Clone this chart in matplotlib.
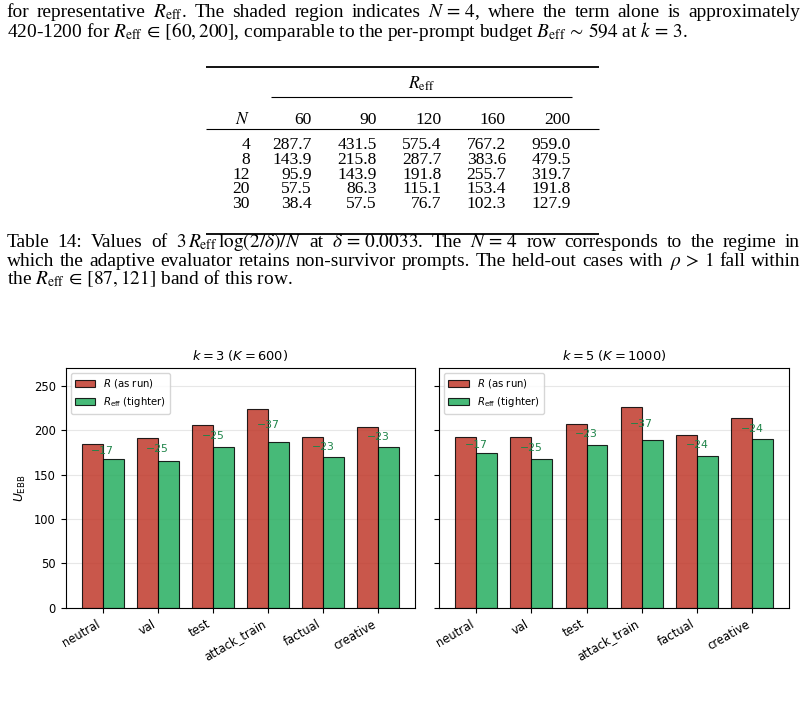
import re
import numpy as np
import matplotlib
matplotlib.use('Agg')
import matplotlib.pyplot as plt
from matplotlib.lines import Line2D

# ---------------- data ----------------
categories = ['neutral', 'val', 'test', 'attack_train', 'factual', 'creative']
k3_R = [185, 191, 206, 224, 193, 204]
k3_Reff = [168, 166, 181, 187, 170, 181]
k5_R = [192, 193, 207, 226, 195, 214]
k5_Reff = [175, 168, 184, 189, 171, 190]

table_Reff = [60, 90, 120, 160, 200]
table_N = [4, 8, 12, 20, 30]
row_4 = [287.7, 431.5, 575.4, 767.2, 959.0]
row_8 = [143.9, 215.8, 287.7, 383.6, 479.5]
row_12 = [95.9, 143.9, 191.8, 255.7, 319.7]
row_20 = [57.5, 86.3, 115.1, 153.4, 191.8]
row_30 = [38.4, 57.5, 76.7, 102.3, 127.9]
table_rows = [row_4, row_8, row_12, row_20, row_30]

top_lines = [
    r"for representative $R_{\mathrm{eff}}$. The shaded region indicates $N\,=\,4$, where the term alone is approximately",
    r"420-1200 for $R_{\mathrm{eff}}\,\in\,[60, 200]$, comparable to the per-prompt budget $B_{\mathrm{eff}}\,\sim\,594$ at $k\,=\,3$.",
]
caption_lines = [
    r"Table 14: Values of $3\,R_{\mathrm{eff}}\,\log(2/\delta)/N$ at $\delta\,=\,0.0033$. The $N\,=\,4$ row corresponds to the regime in",
    r"which the adaptive evaluator retains non-survivor prompts. The held-out cases with $\rho\,>\,1$ fall within",
    r"the $R_{\mathrm{eff}}\,\in\,[87, 121]$ band of this row.",
]

# ---------------- figure ----------------
W, H = 805, 714
fig = plt.figure(figsize=(W / 100, H / 100), dpi=100)
renderer = fig.canvas.get_renderer()
SERIF = 'Liberation Serif'


def fx(x):
    return x / W


def fy(y):
    return 1 - y / H


def make_text(x, y, s, fs, **kw):
    kw.setdefault('va', 'baseline')
    return fig.text(fx(x), fy(y), s, fontsize=fs, family=SERIF,
                    math_fontfamily='stix', **kw)


def width_of(s, fs):
    t = make_text(0, 0, s, fs)
    w = t.get_window_extent(renderer).width
    t.remove()
    return w


def fit_fs(s, target, fs0=12.0):
    return fs0 * target / width_of(s, fs0)


def justify_line(line, x0, x1, y, fs):
    toks = re.findall(r'(?:\$[^$]*\$|[^\s$])+', line)
    widths = [width_of(t, fs) for t in toks]
    gap = (x1 - x0 - sum(widths)) / (len(toks) - 1)
    x = x0
    for t, w in zip(toks, widths):
        make_text(x, y, t, fs)
        x += w + gap


LEFT, RIGHT = 6.5, 800.0
fs_a = fit_fs(top_lines[1], 720 - LEFT)
fs_b = fit_fs(caption_lines[2], 301 - LEFT)
fs_par = 0.96 * (fs_a + fs_b) / 2

# top paragraph
justify_line(top_lines[0], LEFT, RIGHT, 17.3, fs_par)
make_text(LEFT, 36.7, top_lines[1], fs_par)

# caption
justify_line(caption_lines[0], LEFT, RIGHT, 246.8, fs_par)
justify_line(caption_lines[1], LEFT, RIGHT, 265.8, fs_par)
make_text(LEFT, 284.5, caption_lines[2], fs_par)

# ---------------- table ----------------
fs_tab = fit_fs('287.7', 39.5)
col_x = [250.0, 311.7, 376.7, 441.7, 506.0, 570.7]
make_text((271 + 572) / 2, 89.0, r'$R_{\mathrm{eff}}$', fs_tab, ha='center')
make_text(col_x[0], 123.5, r'$N$', fs_tab, ha='right')
for cx, r in zip(col_x[1:], table_Reff):
    make_text(cx, 123.5, str(r), fs_tab, ha='right')
row_y = [149.3, 164.0, 178.6, 193.0, 207.5]
for yy, n, vals in zip(row_y, table_N, table_rows):
    make_text(col_x[0], yy, str(n), fs_tab, ha='right')
    for cx, v in zip(col_x[1:], vals):
        make_text(cx, yy, f'{v:.1f}', fs_tab, ha='right')


def hrule(x0, x1, y, lw):
    fig.add_artist(Line2D([fx(x0), fx(x1)], [fy(y), fy(y)], transform=fig.transFigure,
                          color='black', linewidth=lw, solid_capstyle='butt'))


hrule(206, 599, 66.5, 1.3)
hrule(271, 572, 97.0, 0.8)
hrule(206, 599, 128.5, 0.8)
hrule(206, 599, 234.5, 1.3)

# ---------------- charts ----------------
ax_b, ax_t = 607.7, 368.3
ax_w = 349.6
ax1 = fig.add_axes([fx(65.7), fy(ax_b), ax_w / W, (ax_b - ax_t) / H])
ax2 = fig.add_axes([fx(439.3), fy(ax_b), ax_w / W, (ax_b - ax_t) / H], sharey=ax1)

x = np.arange(len(categories))
w = 0.38
red = '#c0392b'
green = '#27ae60'
for ax, R, Re, title in [(ax1, k3_R, k3_Reff, r'$k = 3$ ($K = 600$)'),
                         (ax2, k5_R, k5_Reff, r'$k = 5$ ($K = 1000$)')]:
    ax.bar(x - w / 2, R, w, color=red, alpha=0.85, edgecolor='black', linewidth=0.8,
           label=r'$R$ (as run)')
    ax.bar(x + w / 2, Re, w, color=green, alpha=0.85, edgecolor='black', linewidth=0.8,
           label=r'$R_{\mathrm{eff}}$ (tighter)')
    for xi, r, re_ in zip(x, R, Re):
        ax.text(xi, (r + re_) / 2, f'\u2212{r - re_}', ha='center', va='center',
                fontsize=7.8, color='#1e8449')
    ax.set_title(title, fontsize=9.4)
    ax.set_xticks(x)
    ax.set_xticklabels(categories, rotation=30, ha='right', fontsize=8.3)
    ax.tick_params(axis='y', labelsize=8.3)
    ax.grid(axis='y', alpha=0.3)
    ax.set_axisbelow(True)
    ax.legend(loc='upper left', fontsize=7.3)

ax1.set_ylim(0, 270)
ax1.set_yticks([0, 50, 100, 150, 200, 250])
ax1.set_ylabel(r'$U_{\mathrm{EBB}}$', fontsize=8.8)
ax2.tick_params(axis='y', labelleft=False)

fig.savefig('out.png', dpi=100)
